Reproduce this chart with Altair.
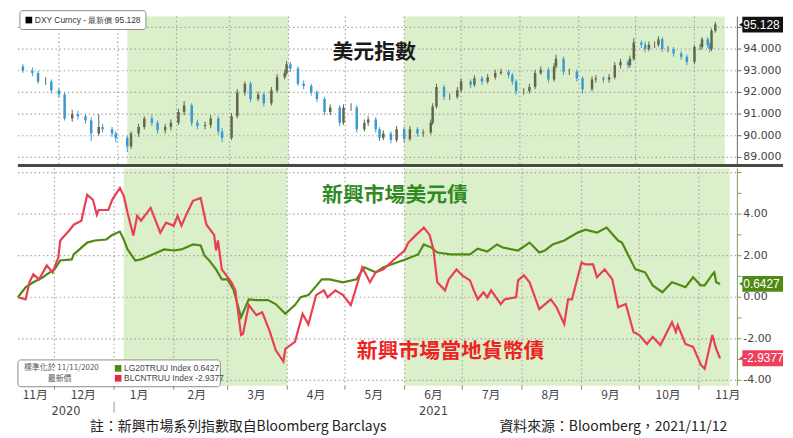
import altair as alt
import pandas as pd

# ---------------- data ----------------
dxy_dates = [
    "2020-11-12", "2020-11-17", "2020-11-20", "2020-11-24", "2020-11-27", "2020-12-01", "2020-12-04", "2020-12-08",
    "2020-12-11", "2020-12-15", "2020-12-18", "2020-12-22", "2020-12-24", "2020-12-29", "2020-12-31",
    "2021-01-06", "2021-01-08", "2021-01-12", "2021-01-15", "2021-01-19", "2021-01-22", "2021-01-26", "2021-01-29",
    "2021-02-02", "2021-02-05", "2021-02-09", "2021-02-12", "2021-02-16", "2021-02-19", "2021-02-23", "2021-02-25",
    "2021-03-02", "2021-03-05", "2021-03-09", "2021-03-12", "2021-03-16", "2021-03-19", "2021-03-23", "2021-03-26",
    "2021-03-30", "2021-03-31",
    "2021-04-02", "2021-04-06", "2021-04-09", "2021-04-13", "2021-04-16", "2021-04-20", "2021-04-23", "2021-04-28",
    "2021-04-30",
    "2021-05-04", "2021-05-07", "2021-05-11", "2021-05-13", "2021-05-17", "2021-05-19", "2021-05-21", "2021-05-25",
    "2021-05-28",
    "2021-06-01", "2021-06-04", "2021-06-08", "2021-06-11", "2021-06-15", "2021-06-16", "2021-06-18", "2021-06-22",
    "2021-06-25", "2021-06-29",
    "2021-07-01", "2021-07-06", "2021-07-08", "2021-07-12", "2021-07-15", "2021-07-19", "2021-07-22", "2021-07-26",
    "2021-07-28", "2021-07-30",
    "2021-08-03", "2021-08-06", "2021-08-09", "2021-08-12", "2021-08-16", "2021-08-19", "2021-08-20", "2021-08-24",
    "2021-08-27", "2021-08-31",
    "2021-09-03", "2021-09-08", "2021-09-10", "2021-09-14", "2021-09-17", "2021-09-20", "2021-09-23", "2021-09-27",
    "2021-09-28", "2021-09-30",
    "2021-10-04", "2021-10-06", "2021-10-08", "2021-10-11", "2021-10-13", "2021-10-15", "2021-10-18", "2021-10-21",
    "2021-10-25", "2021-10-28",
    "2021-11-01", "2021-11-04", "2021-11-05", "2021-11-08", "2021-11-09", "2021-11-10", "2021-11-12",
]
dxy_open = [
    93.20, 93.00, 92.90, 92.50, 92.50, 92.10, 91.90, 90.80, 91.00, 90.90, 90.70, 90.10, 90.40, 90.30, 90.10,
    89.90, 89.50, 90.10, 90.40, 90.80, 90.60, 90.25, 90.40,
    90.60, 91.10, 91.40, 90.60, 90.45, 90.50, 90.80, 90.20,
    89.90, 90.90, 92.00, 92.40, 91.70, 91.90, 91.50, 92.10, 92.70, 92.90,
    93.30, 93.10, 92.40, 92.30, 92.00, 91.70, 91.10, 91.30, 90.60,
    91.30, 91.30, 90.30, 90.60, 90.75, 90.30, 89.90, 90.10, 89.80,
    90.30, 89.85, 90.30, 90.10, 90.15, 90.60, 91.35, 92.25, 91.80, 91.80,
    92.10, 92.50, 92.35, 92.65, 92.50, 92.70, 92.90, 92.95, 92.80, 92.50,
    92.05, 92.05, 92.25, 92.90, 93.05, 92.60, 93.20, 93.55, 92.95, 92.95,
    92.65, 92.15, 92.60, 92.65, 92.60, 92.70, 93.25, 93.40, 93.25, 93.55,
    94.30, 94.20, 94.00, 94.20, 94.20, 94.45, 94.00, 94.00, 93.80, 93.65,
    93.40, 94.10, 94.10, 94.45, 94.20, 94.00, 94.85,
]
dxy_high = [
    93.30, 93.15, 93.00, 92.70, 92.60, 92.20, 92.00, 91.20, 91.15, 91.00, 90.85, 91.00, 90.55, 90.40, 90.20,
    90.00, 90.20, 90.55, 90.90, 90.95, 90.70, 90.55, 90.75,
    91.25, 91.60, 91.50, 90.75, 90.65, 90.95, 90.90, 90.35,
    91.05, 92.15, 92.50, 92.50, 92.05, 92.00, 92.25, 92.85, 93.05, 93.45,
    93.40, 93.20, 92.55, 92.40, 92.10, 91.80, 91.45, 91.40, 91.45,
    91.50, 91.40, 90.75, 90.90, 90.85, 90.40, 90.25, 90.20, 90.45,
    90.40, 90.45, 90.40, 90.30, 90.75, 91.50, 92.40, 92.35, 91.95, 92.25,
    92.65, 92.60, 92.80, 92.75, 92.85, 93.05, 93.10, 93.05, 92.90, 92.60,
    92.20, 92.40, 93.05, 93.20, 93.15, 93.35, 93.75, 93.65, 93.10, 93.05,
    92.75, 92.75, 92.80, 92.75, 92.85, 93.40, 93.55, 93.50, 93.70, 94.50,
    94.40, 94.35, 94.35, 94.35, 94.60, 94.55, 94.15, 94.10, 93.90, 93.75,
    94.20, 94.25, 94.55, 94.55, 94.30, 94.95, 95.25,
]
dxy_low = [
    92.90, 92.75, 92.40, 92.35, 91.95, 91.75, 90.70, 90.65, 90.75, 90.55, 89.75, 90.00, 90.15, 89.95, 89.70,
    89.25, 89.40, 89.95, 90.30, 90.45, 90.10, 90.10, 90.25,
    90.50, 90.95, 90.45, 90.30, 90.30, 90.35, 90.05, 89.70,
    89.80, 90.80, 91.85, 91.55, 91.60, 91.35, 91.40, 92.00, 92.60, 92.80,
    92.95, 92.30, 92.15, 91.85, 91.55, 90.95, 90.95, 90.45, 90.50,
    91.15, 90.15, 90.20, 90.45, 90.15, 89.75, 89.80, 89.65, 89.70,
    89.70, 89.75, 89.95, 89.95, 90.05, 90.50, 91.25, 91.65, 91.65, 91.70,
    92.00, 92.20, 92.25, 92.35, 92.40, 92.60, 92.80, 92.65, 92.35, 91.90,
    91.90, 91.95, 92.15, 92.80, 92.45, 92.50, 93.10, 92.80, 92.80, 92.50,
    91.95, 92.05, 92.45, 92.45, 92.45, 92.60, 93.10, 93.10, 93.15, 93.45,
    94.05, 93.85, 93.90, 94.05, 94.10, 93.85, 93.85, 93.65, 93.50, 93.25,
    93.30, 93.95, 94.00, 94.05, 93.85, 93.90, 94.75,
]
dxy_close = [
    93.00, 92.90, 92.50, 92.50, 92.10, 91.90, 90.80, 91.00, 90.90, 90.70, 90.10, 90.40, 90.30, 90.10, 89.90,
    89.50, 90.10, 90.40, 90.80, 90.60, 90.25, 90.40, 90.60,
    91.10, 91.40, 90.60, 90.45, 90.50, 90.80, 90.20, 89.90,
    90.90, 92.00, 92.40, 91.70, 91.90, 91.50, 92.10, 92.70, 92.90, 93.30,
    93.10, 92.40, 92.30, 92.00, 91.70, 91.10, 91.30, 90.60, 91.30,
    91.30, 90.30, 90.60, 90.75, 90.30, 89.90, 90.10, 89.80, 90.30,
    89.85, 90.30, 90.10, 90.15, 90.60, 91.35, 92.25, 91.80, 91.80, 92.10,
    92.50, 92.35, 92.65, 92.50, 92.70, 92.90, 92.95, 92.80, 92.50, 92.05,
    92.05, 92.25, 92.90, 93.05, 92.60, 93.20, 93.55, 92.95, 92.95, 92.65,
    92.15, 92.60, 92.65, 92.60, 92.70, 93.25, 93.40, 93.25, 93.55, 94.30,
    94.20, 94.00, 94.20, 94.20, 94.45, 94.00, 94.00, 93.80, 93.65, 93.40,
    94.10, 94.10, 94.45, 94.20, 94.00, 94.85, 95.13,
]

usd_dates = [
    "2020-11-12", "2020-11-16", "2020-11-20", "2020-11-25", "2020-11-27", "2020-12-01", "2020-12-04", "2020-12-10",
    "2020-12-11", "2020-12-18", "2020-12-22", "2020-12-28", "2020-12-31", "2021-01-04", "2021-01-06", "2021-01-08",
    "2021-01-12", "2021-01-15", "2021-01-21", "2021-01-27", "2021-02-01", "2021-02-05", "2021-02-11", "2021-02-15",
    "2021-02-17", "2021-02-19", "2021-02-23", "2021-02-26", "2021-03-01", "2021-03-04", "2021-03-08", "2021-03-12",
    "2021-03-16", "2021-03-22", "2021-03-26", "2021-03-31", "2021-04-05", "2021-04-08", "2021-04-12", "2021-04-19",
    "2021-04-23", "2021-04-30", "2021-05-07", "2021-05-11", "2021-05-17", "2021-05-21", "2021-06-01", "2021-06-04",
    "2021-06-08", "2021-06-11", "2021-06-15", "2021-06-18", "2021-06-25", "2021-07-05", "2021-07-09", "2021-07-14",
    "2021-07-19", "2021-07-22", "2021-07-30", "2021-08-05", "2021-08-10", "2021-08-13", "2021-08-17", "2021-08-23",
    "2021-08-30", "2021-09-03", "2021-09-09", "2021-09-14", "2021-09-20", "2021-09-22", "2021-09-29", "2021-10-04",
    "2021-10-08", "2021-10-13", "2021-10-18", "2021-10-21", "2021-10-25", "2021-10-29", "2021-11-02", "2021-11-04",
    "2021-11-08", "2021-11-09", "2021-11-10", "2021-11-12",
]
usd_values = [
    0.00, 0.48, 0.72, 0.96, 1.10, 1.34, 1.77, 1.82,
    2.06, 2.63, 2.73, 2.78, 3.00, 3.16, 2.78, 2.30,
    1.77, 1.82, 2.06, 2.30, 2.25, 2.30, 2.54, 2.49,
    2.00, 1.82, 1.34, 0.86, 0.86, 0.38, -0.96, -0.10,
    -0.14, -0.14, -0.33, -0.80, -0.38, 0.00, 0.10, 0.86,
    0.86, 0.72, 0.86, 1.44, 1.20, 1.44, 1.80, 1.91,
    2.06, 2.54, 2.39, 2.15, 2.06, 2.06, 2.34, 2.20,
    2.54, 2.39, 2.25, 2.63, 2.15, 2.25, 2.54, 2.73,
    3.11, 3.25, 3.11, 3.35, 2.73, 2.63, 1.34, 1.20,
    0.57, 0.24, 0.72, 0.62, 0.48, 0.96, 0.57, 0.57,
    1.10, 1.20, 0.72, 0.64,
]

local_dates = [
    "2020-11-12", "2020-11-16", "2020-11-18", "2020-11-20", "2020-11-23", "2020-11-27", "2020-11-30", "2020-12-03",
    "2020-12-04", "2020-12-09", "2020-12-11", "2020-12-15", "2020-12-18", "2020-12-21", "2020-12-23", "2020-12-24",
    "2020-12-29", "2020-12-31", "2021-01-04", "2021-01-06", "2021-01-08", "2021-01-11", "2021-01-13", "2021-01-15",
    "2021-01-20", "2021-01-25", "2021-01-28", "2021-02-01", "2021-02-03", "2021-02-05", "2021-02-08", "2021-02-11",
    "2021-02-15", "2021-02-18", "2021-02-22", "2021-02-23", "2021-02-24", "2021-02-26", "2021-03-03", "2021-03-05",
    "2021-03-08", "2021-03-09", "2021-03-12", "2021-03-16", "2021-03-19", "2021-03-23", "2021-03-26", "2021-03-30",
    "2021-03-31", "2021-04-05", "2021-04-09", "2021-04-12", "2021-04-16", "2021-04-20", "2021-04-22", "2021-04-26",
    "2021-04-30", "2021-05-04", "2021-05-05", "2021-05-10", "2021-05-14", "2021-05-17", "2021-05-21", "2021-05-26",
    "2021-06-01", "2021-06-03", "2021-06-07", "2021-06-11", "2021-06-14", "2021-06-16", "2021-06-18", "2021-06-22",
    "2021-06-24", "2021-06-28", "2021-07-01", "2021-07-05", "2021-07-07", "2021-07-09", "2021-07-12", "2021-07-14",
    "2021-07-16", "2021-07-21", "2021-07-23", "2021-07-29", "2021-07-30", "2021-08-02", "2021-08-05", "2021-08-10",
    "2021-08-16", "2021-08-19", "2021-08-23", "2021-08-25", "2021-08-27", "2021-09-01", "2021-09-03", "2021-09-07",
    "2021-09-09", "2021-09-13", "2021-09-17", "2021-09-20", "2021-09-24", "2021-09-28", "2021-10-01", "2021-10-05",
    "2021-10-08", "2021-10-12", "2021-10-18", "2021-10-20", "2021-10-21", "2021-10-25", "2021-10-29", "2021-11-02",
    "2021-11-04", "2021-11-08", "2021-11-10", "2021-11-12",
]
local_values = [
    0.00, -0.10, 0.72, 1.10, 0.86, 1.53, 1.20, 1.91,
    2.73, 3.25, 3.49, 3.68, 4.93, 4.69, 3.97, 4.20,
    4.20, 4.69, 5.26, 4.88, 4.07, 2.97, 3.92, 3.68,
    4.30, 3.11, 3.59, 3.44, 3.92, 3.44, 4.07, 4.64,
    4.78, 3.49, 3.00, 2.25, 2.73, 1.34, 0.72, 0.33,
    -1.82, -1.77, -0.38, -0.86, -0.72, -1.67, -2.54, -3.10,
    -2.49, -2.15, -0.80, -1.30, 0.10, 0.33, 0.00, 0.33,
    0.10, -0.38, -0.10, 1.44, 0.72, 1.20, 1.34, 1.77,
    2.25, 2.63, 3.00, 3.35, 3.00, 2.30, 0.72, 0.33,
    0.86, 1.34, 1.05, 0.81, 0.33, -0.10, 0.24, 0.00,
    0.33, -0.33, -0.10, 0.00, 0.81, 1.05, 0.72, -0.57,
    -0.10, -0.48, -1.29, -0.10, -0.10, 1.67, 1.58, 1.58,
    0.96, 1.34, 0.86, -0.48, -0.33, -1.67, -1.82, -2.25,
    -1.91, -2.30, -1.20, -1.67, -1.34, -2.25, -2.39, -3.25,
    -3.44, -1.82, -2.49, -2.94,
]

shade_start = ["2021-01-06", "2021-06-01"]
shade_end = ["2021-04-01", "2021-11-17"]

month_starts = ["2020-12-01", "2021-01-01", "2021-02-01", "2021-03-01", "2021-04-01", "2021-05-01",
                "2021-06-01", "2021-07-01", "2021-08-01", "2021-09-01", "2021-10-01", "2021-11-01"]
month_label_dates = ["2020-11-21", "2020-12-16", "2021-01-14", "2021-02-13", "2021-03-16", "2021-04-16",
                     "2021-05-16", "2021-06-16", "2021-07-16", "2021-08-16", "2021-09-16", "2021-10-16",
                     "2021-11-16"]
month_labels = ["11月", "12月", "1月", "2月", "3月", "4月", "5月", "6月", "7月", "8月", "9月", "10月", "11月"]
year_label_dates = ["2020-12-07", "2021-06-16"]
year_labels = ["2020", "2021"]
year_break = ["2021-01-01"]

dxy_grid = [89, 90, 91, 92, 93, 94, 95]
dxy_ticks = [89, 90, 91, 92, 93, 94, 95]
dxy_label_values = [89, 90, 91, 92, 93, 94]
dxy_label_texts = ["89.000", "90.000", "91.000", "92.000", "93.000", "94.000"]
bond_grid = [-4, -2, 0, 2, 4, 6]
bond_ticks = [-4, -3, -2, -1, 0, 1, 2, 3, 4, 5, 6]
bond_label_values = [-4, -2, 0, 2, 4]
bond_label_texts = ["-4.00", "-2.00", "0.00", "2.00", "4.00"]

dxy_last_value = [95.128]
dxy_last_label = ["95.128"]
bond_last_values = [0.6427, -2.9377]
bond_last_labels = ["0.6427", "-2.9377"]

x_domain = ["2020-11-12", "2021-11-21"]
dxy_domain = [88.63, 95.5]
bond_domain = [-4.26, 6.2]

title_dxy = ["美元指數"]
title_usd = ["新興市場美元債"]
title_local = ["新興市場當地貨幣債"]
legend_dxy = ["DXY Curncy - 最新價 95.128"]
legend_norm = ["標準化於 11/11/2020"]
legend_latest = ["最新價"]
legend_usd = ["LG20TRUU Index  0.6427"]
legend_local = ["BLCNTRUU Index -2.9377"]
note_left = ["註：新興市場系列指數取自Bloomberg Barclays"]
note_right = ["資料來源：Bloomberg，2021/11/12"]

# ---------------- styling ----------------
W, H1, H2 = 725, 150, 219
SHADE = "#dcefcb"
GRID = "#a2a2a2"
UP = "#62664a"
DOWN = "#3a98d4"
GREEN = "#4f8a12"
RED = "#ea3f52"
CJK = "Noto Sans CJK TC"
NUM = "DejaVu Sans"


def dt(s):
    y, m, d = (int(p) for p in s.split("-"))
    return alt.DateTime(year=y, month=m, date=d, utc=True)


x_scale = alt.Scale(domain=[dt(x_domain[0]), dt(x_domain[1])])
y_top = alt.Scale(domain=dxy_domain, nice=False, zero=False)
y_bot = alt.Scale(domain=bond_domain, nice=False, zero=False)

one = pd.DataFrame({"k": [0]})


def shade_layer():
    df = pd.DataFrame({"start": shade_start, "end": shade_end})
    return alt.Chart(df).mark_rect(color=SHADE).encode(
        x=alt.X("start:T", scale=x_scale, axis=None), x2="end:T")


def vgrid_layer(height):
    df = pd.DataFrame({"gd": month_starts})
    return alt.Chart(df).mark_rule(stroke=GRID, strokeDash=[1.4, 2.8], strokeWidth=1.2).encode(
        x=alt.X("gd:T", scale=x_scale, axis=None),
        y=alt.value(0), y2=alt.value(height))


def hgrid_layer(values, scale):
    df = pd.DataFrame({"gv": values})
    return alt.Chart(df).mark_rule(stroke=GRID, strokeDash=[1.4, 2.8], strokeWidth=1.2).encode(
        y=alt.Y("gv:Q", scale=scale, axis=None),
        x=alt.value(0), x2=alt.value(W))


def right_axis(tick_values, label_values, label_texts, scale, height, color):
    ticks = alt.Chart(pd.DataFrame({"tv": tick_values})).mark_rule(stroke=color, strokeWidth=1).encode(
        y=alt.Y("tv:Q", scale=scale, axis=None), x=alt.value(W), x2=alt.value(W + 4))
    line = alt.Chart(one).mark_rule(stroke=color, strokeWidth=1).encode(
        x=alt.value(W), y=alt.value(0), y2=alt.value(height))
    labels = alt.Chart(pd.DataFrame({"lv": label_values, "lt": label_texts})).mark_text(
        align="left", baseline="middle", font=NUM, fontSize=11, color="#444").encode(
        y=alt.Y("lv:Q", scale=scale, axis=None), x=alt.value(W + 6), text="lt:N")
    return [line, ticks, labels]


def text_value(texts, x, y, **kw):
    df = pd.DataFrame({"t": texts})
    return alt.Chart(df).mark_text(**kw).encode(x=alt.value(x), y=alt.value(y), text="t:N")


def value_box(values, labels, scale, colors):
    df = pd.DataFrame({"v": values, "label": labels, "c": colors})
    base = alt.Chart(df)
    rect = base.mark_rect(yOffset=-8, y2Offset=8).encode(
        x=alt.value(W + 5), x2=alt.value(W + 46),
        y=alt.Y("v:Q", scale=scale, axis=None), y2=alt.Y2("v"),
        color=alt.Color("c:N", scale=None))
    arrow = base.mark_point(shape="triangle-left", filled=True, size=30, opacity=1).encode(
        x=alt.value(W + 4), y=alt.Y("v:Q", scale=scale, axis=None),
        color=alt.Color("c:N", scale=None))
    txt = base.mark_text(align="left", baseline="middle", color="white",
                         font="Liberation Sans", fontSize=12).encode(
        x=alt.value(W + 6), y=alt.Y("v:Q", scale=scale, axis=None), text="label:N")
    return [rect, arrow, txt]


# ---------------- top panel (DXY) ----------------
dxy_df = pd.DataFrame({"date": dxy_dates, "open": dxy_open, "high": dxy_high,
                       "low": dxy_low, "close": dxy_close})
candle_color = alt.condition("datum.close < datum.open", alt.value(DOWN), alt.value(UP))

wick = alt.Chart(dxy_df).mark_rule(strokeWidth=1, clip=True).encode(
    x=alt.X("date:T", scale=x_scale, axis=None),
    y=alt.Y("low:Q", scale=y_top, axis=None), y2="high:Q", color=candle_color)
body = alt.Chart(dxy_df).mark_bar(size=2.5, clip=True).encode(
    x=alt.X("date:T", scale=x_scale, axis=None),
    y=alt.Y("open:Q", scale=y_top, axis=None), y2="close:Q", color=candle_color)

sep = alt.Chart(one).mark_rule(color="#454d40", strokeWidth=3).encode(
    x=alt.value(0), x2=alt.value(W + 46), y=alt.value(H1))

top_legend = [
    alt.Chart(one).mark_rect(fill="white", stroke="#8c8c8c", strokeWidth=1, cornerRadius=3).encode(
        x=alt.value(2), x2=alt.value(129), y=alt.value(-6), y2=alt.value(13)),
    alt.Chart(one).mark_square(color="black", size=45, opacity=1).encode(x=alt.value(11), y=alt.value(3.5)),
    text_value(legend_dxy, 17, 3.5, align="left", baseline="middle", font="Liberation Sans",
               fontSize=8.5, color="#333"),
]

top = alt.layer(
    shade_layer(),
    vgrid_layer(H1),
    hgrid_layer(dxy_grid, y_top),
    wick, body,
    text_value(title_dxy, 359, 37, align="center", baseline="middle", font=CJK,
               fontSize=21, fontWeight="bold", color="#1a1a1a"),
    *right_axis(dxy_ticks, dxy_label_values, dxy_label_texts, y_top, H1, "#666666"),
    *value_box(dxy_last_value, dxy_last_label, y_top, ["#111111"]),
    *top_legend,
    sep,
).properties(width=W, height=H1)

# ---------------- bottom panel (bonds) ----------------
usd_df = pd.DataFrame({"date": usd_dates, "v": usd_values})
local_df = pd.DataFrame({"date": local_dates, "v": local_values})

usd_line = alt.Chart(usd_df).mark_line(color=GREEN, strokeWidth=2.2).encode(
    x=alt.X("date:T", scale=x_scale, axis=None), y=alt.Y("v:Q", scale=y_bot, axis=None))
local_line = alt.Chart(local_df).mark_line(color=RED, strokeWidth=2.2).encode(
    x=alt.X("date:T", scale=x_scale, axis=None), y=alt.Y("v:Q", scale=y_bot, axis=None))

month_ticks = alt.Chart(pd.DataFrame({"md": month_starts})).mark_rule(stroke="#888", strokeWidth=1).encode(
    x=alt.X("md:T", scale=x_scale, axis=None), y=alt.value(H2), y2=alt.value(H2 + 4))
months = alt.Chart(pd.DataFrame({"d": month_label_dates, "t": month_labels})).mark_text(
    baseline="middle", align="center", font=CJK, fontSize=12, color="#444").encode(
    x=alt.X("d:T", scale=x_scale, axis=None), y=alt.value(H2 + 9), text="t:N")
years = alt.Chart(pd.DataFrame({"d": year_label_dates, "t": year_labels})).mark_text(
    baseline="middle", align="center", font=NUM, fontSize=11.5, color="#444").encode(
    x=alt.X("d:T", scale=x_scale, axis=None), y=alt.value(H2 + 26), text="t:N")
year_tick = alt.Chart(pd.DataFrame({"d": year_break})).mark_rule(color="#999", strokeWidth=1).encode(
    x=alt.X("d:T", scale=x_scale, axis=None), y=alt.value(H2 + 16), y2=alt.value(H2 + 27))

bot_legend = [
    alt.Chart(one).mark_rect(fill="white", stroke="#8c8c8c", strokeWidth=1, cornerRadius=3).encode(
        x=alt.value(0), x2=alt.value(204), y=alt.value(193), y2=alt.value(220)),
    text_value(legend_norm, 6, 201, align="left", baseline="middle", font=CJK, fontSize=8, color="#555"),
    text_value(legend_latest, 42, 212, align="center", baseline="middle", font=CJK, fontSize=8, color="#555"),
    alt.Chart(one).mark_square(color=GREEN, size=45, opacity=1).encode(x=alt.value(101), y=alt.value(201.5)),
    alt.Chart(one).mark_square(color="#e8264a", size=45, opacity=1).encode(x=alt.value(101), y=alt.value(211.5)),
    text_value(legend_usd, 107, 201.5, align="left", baseline="middle", font="Liberation Sans",
               fontSize=8.5, color="#444"),
    text_value(legend_local, 107, 211.5, align="left", baseline="middle", font="Liberation Sans",
               fontSize=8.5, color="#444"),
]

bottom = alt.layer(
    shade_layer(),
    vgrid_layer(H2),
    hgrid_layer(bond_grid, y_bot),
    usd_line, local_line,
    text_value(title_usd, 380, 28, align="center", baseline="middle", font=CJK,
               fontSize=21, fontWeight="bold", color="#2f8a22"),
    text_value(title_local, 436, 185, align="center", baseline="middle", font=CJK,
               fontSize=21, fontWeight="bold", color="#ee2222"),
    *right_axis(bond_ticks, bond_label_values, bond_label_texts, y_bot, H2, "#7f9a55"),
    *value_box(bond_last_values, bond_last_labels, y_bot, [GREEN, "#ee3f5c"]),
    *bot_legend,
    month_ticks, months, years, year_tick,
    text_value(note_left, 222, H2 + 42, align="center", baseline="middle", font=CJK,
               fontSize=14, color="#222"),
    text_value(note_right, 600, H2 + 42, align="center", baseline="middle", font=CJK,
               fontSize=14, color="#222"),
).properties(width=W, height=H2)

chart = alt.vconcat(top, bottom, spacing=0).properties(
    padding={"left": 5, "top": 0, "right": 0, "bottom": 0}
).configure_view(strokeWidth=0)

chart.save("out.html", embed_options={"renderer": "svg", "actions": False})
